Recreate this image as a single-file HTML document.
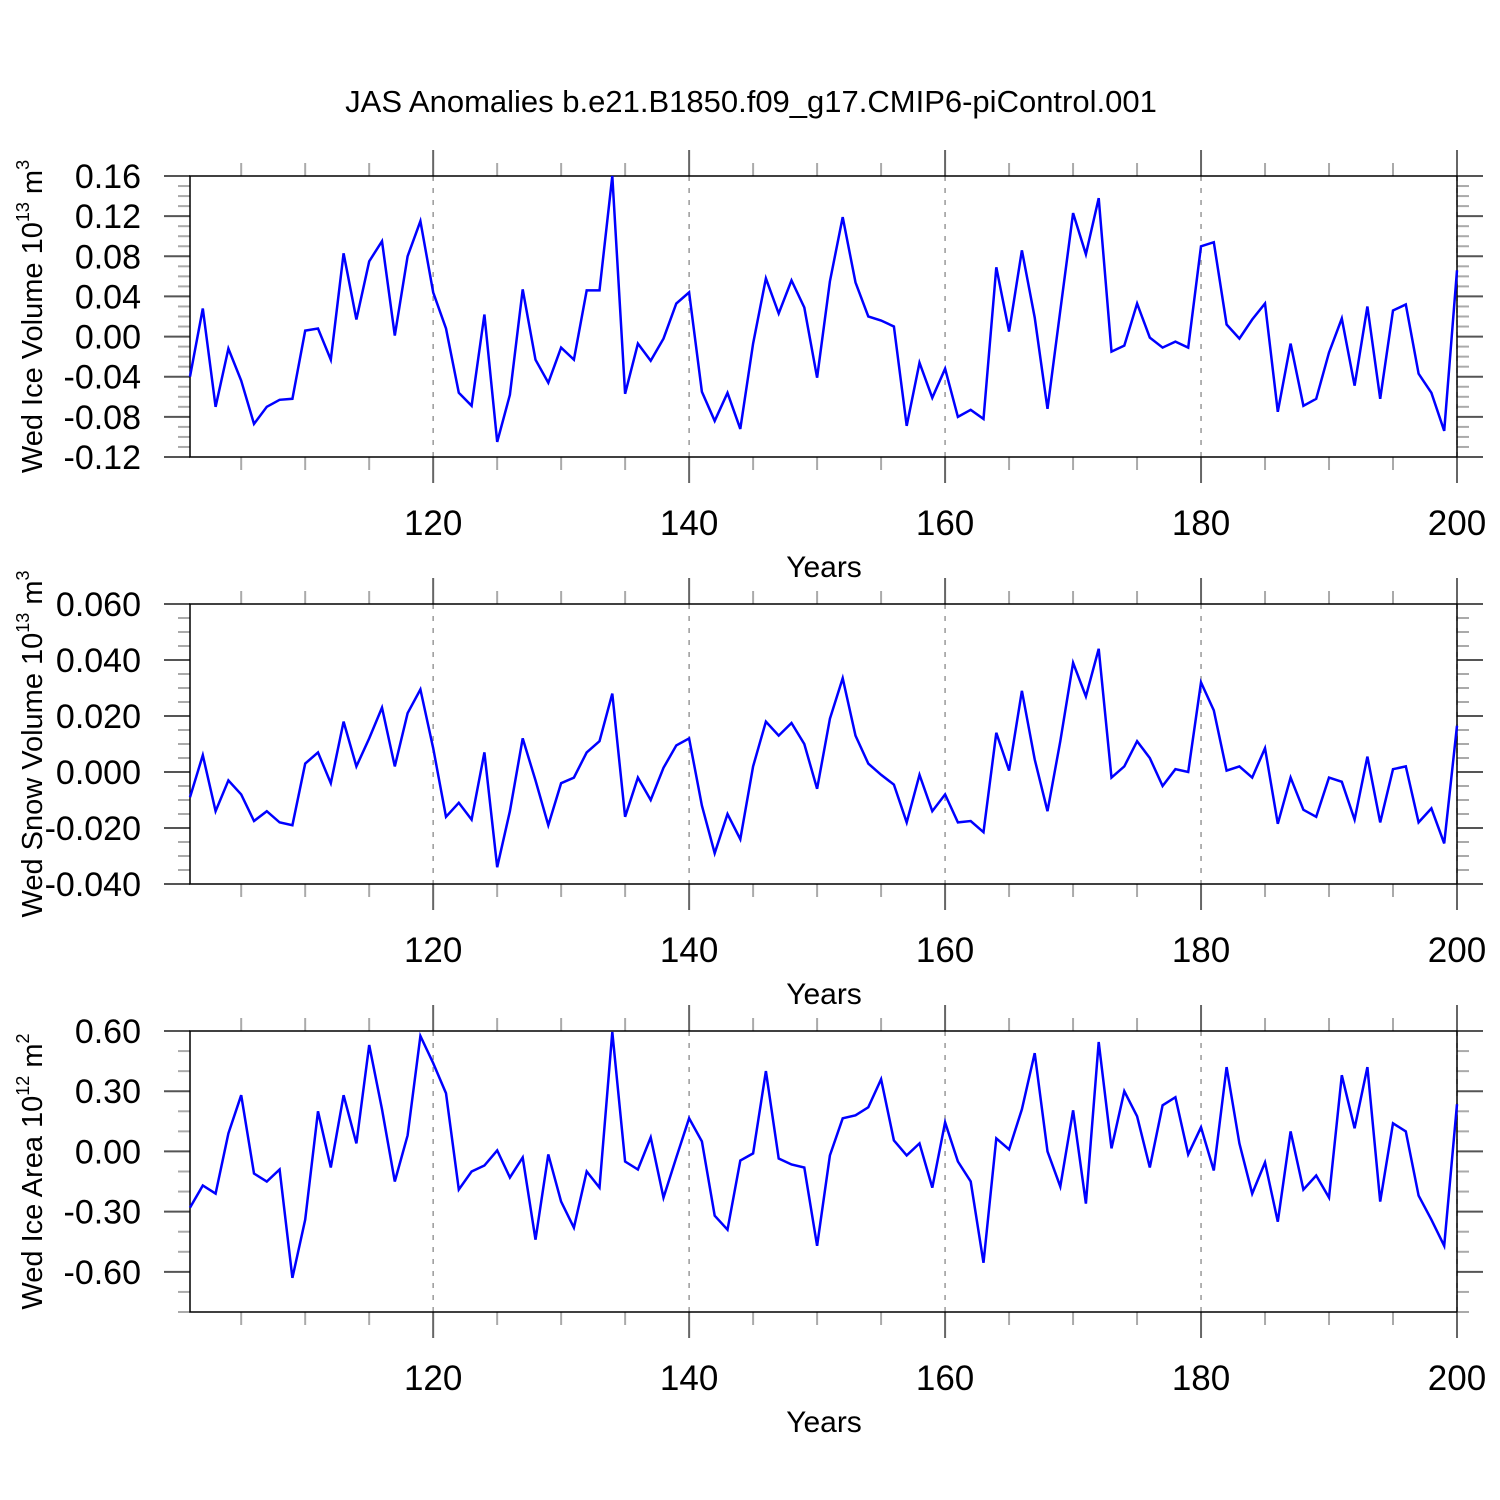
<!DOCTYPE html>
<html><head><meta charset="utf-8"><style>
html,body{margin:0;padding:0;background:#fff;}
svg{display:block;font-family:"Liberation Sans",sans-serif;}
</style></head><body>
<svg id="chart" width="1500" height="1500" viewBox="0 0 1500 1500">
<text x="751" y="112" font-size="31" text-anchor="middle">JAS Anomalies b.e21.B1850.f09_g17.CMIP6-piControl.001</text>
</svg>
<script>
const years = Array.from({length:100},(_,i)=>101+i);
const iceVolume = [-0.04,0.028,-0.07,-0.012,-0.044,-0.087,-0.07,-0.063,-0.062,0.006,0.008,-0.023,0.083,0.017,0.075,0.095,0.001,0.080,0.115,0.044,
0.008,-0.056,-0.069,0.022,-0.105,-0.058,0.047,-0.023,-0.046,-0.011,-0.023,0.046,0.046,0.16,-0.057,-0.007,-0.024,-0.002,0.033,0.044,
-0.055,-0.084,-0.056,-0.092,-0.007,0.058,0.023,0.056,0.029,-0.041,0.055,0.119,0.054,0.020,0.016,0.010,-0.089,-0.026,-0.061,-0.032,
-0.080,-0.073,-0.082,0.069,0.005,0.086,0.019,-0.072,0.026,0.123,0.082,0.138,-0.015,-0.009,0.033,-0.001,-0.011,-0.005,-0.011,0.090,
0.094,0.012,-0.002,0.017,0.033,-0.075,-0.007,-0.069,-0.062,-0.016,0.018,-0.049,0.030,-0.062,0.026,0.032,-0.037,-0.056,-0.094,0.066];
const snowVolume = [-0.009,0.006,-0.014,-0.003,-0.008,-0.0175,-0.014,-0.018,-0.019,0.003,0.007,-0.004,0.018,0.002,0.012,0.023,0.002,0.021,0.0295,0.0085,
-0.016,-0.011,-0.017,0.007,-0.034,-0.014,0.012,-0.003,-0.019,-0.004,-0.002,0.007,0.011,0.028,-0.016,-0.002,-0.010,0.0015,0.0095,0.012,
-0.012,-0.029,-0.015,-0.024,0.002,0.018,0.013,0.0175,0.010,-0.006,0.019,0.0335,0.013,0.003,-0.001,-0.0045,-0.018,-0.001,-0.014,-0.008,
-0.018,-0.0175,-0.0215,0.014,0.0005,0.029,0.0045,-0.014,0.011,0.039,0.027,0.044,-0.002,0.002,0.011,0.005,-0.005,0.001,0.000,0.032,
0.022,0.0005,0.002,-0.002,0.0085,-0.0185,-0.002,-0.0135,-0.016,-0.002,-0.0035,-0.017,0.0055,-0.018,0.001,0.002,-0.018,-0.013,-0.0255,0.0165];
const iceArea = [-0.28,-0.17,-0.21,0.09,0.28,-0.11,-0.15,-0.09,-0.63,-0.34,0.20,-0.08,0.28,0.04,0.53,0.21,-0.15,0.08,0.575,0.44,
0.29,-0.19,-0.10,-0.07,0.005,-0.13,-0.03,-0.44,-0.015,-0.25,-0.38,-0.10,-0.18,0.595,-0.05,-0.09,0.07,-0.23,-0.03,0.165,
0.05,-0.32,-0.39,-0.045,-0.01,0.40,-0.035,-0.065,-0.08,-0.47,-0.02,0.165,0.18,0.22,0.36,0.055,-0.02,0.04,-0.18,0.145,
-0.05,-0.15,-0.555,0.065,0.01,0.21,0.49,0.0,-0.175,0.205,-0.26,0.545,0.015,0.30,0.175,-0.08,0.23,0.27,-0.015,0.12,
-0.095,0.42,0.04,-0.21,-0.055,-0.35,0.10,-0.19,-0.12,-0.23,0.38,0.115,0.42,-0.25,0.14,0.10,-0.22,-0.34,-0.47,0.235];
const xTickLabels = ["120","140","160","180","200"];
const xTickValues = [120,140,160,180,200];
const iceVolTicks = ["0.16","0.12","0.08","0.04","0.00","-0.04","-0.08","-0.12"];
const snowTicks = ["0.060","0.040","0.020","0.000","-0.020","-0.040"];
const areaTicks = ["0.60","0.30","0.00","-0.30","-0.60"];

const NS="http://www.w3.org/2000/svg";
const svg=document.getElementById('chart');
function mk(tag,attrs,parent){const e=document.createElementNS(NS,tag);for(const k in attrs)e.setAttribute(k,attrs[k]);(parent||svg).appendChild(e);return e;}
const X0=190,X1=1457,XMIN=101,XMAX=200;
const xs=v=>X0+(v-XMIN)/(XMAX-XMIN)*(X1-X0);

const panels=[
 {name:'ice-volume',top:176,bot:457,ymin:-0.12,ymax:0.16,major:0.04,minor:0.01,ticks:iceVolTicks,data:iceVolume,title:'Wed Ice Volume 10',sup:'13',unit:' m',usup:'3'},
 {name:'snow-volume',top:604,bot:884,ymin:-0.04,ymax:0.06,major:0.02,minor:0.005,ticks:snowTicks,data:snowVolume,title:'Wed Snow Volume 10',sup:'13',unit:' m',usup:'3'},
 {name:'ice-area',top:1031,bot:1312,ymin:-0.8,ymax:0.6,major:0.3,minor:0.1,ticks:areaTicks,data:iceArea,title:'Wed Ice Area 10',sup:'12',unit:' m',usup:'2'}
];
panels.forEach(p=>{
 const g=mk('g',{});
 
 
 const ys=v=>p.bot-(v-p.ymin)/(p.ymax-p.ymin)*(p.bot-p.top);
 xTickValues.forEach(v=>{
  const l=mk('line',{x1:xs(v),x2:xs(v),y1:p.top,y2:p.bot,stroke:'#999','stroke-width':1.5,'stroke-dasharray':'5,7'},g);
  
  
 });
 for(let yr=105;yr<=200;yr+=5){
  const maj=yr%20===0;const len=maj?26:13;
  [[p.top,-1],[p.bot,1]].forEach(([y,d])=>{
   const t=mk('line',{x1:xs(yr),x2:xs(yr),y1:y,y2:y+d*len,stroke:maj?'#666':'#aaa','stroke-width':2},g);
   
   
  });
 }
 const nMin=Math.round((p.ymax-p.ymin)/p.minor);
 for(let i=0;i<=nMin;i++){
  const v=p.ymax-i*p.minor;
  const rel=(p.ymax-v)/p.major;const maj=Math.abs(rel-Math.round(rel))<1e-6;
  const len=maj?26:12;
  [[X0,-1],[X1,1]].forEach(([x,d])=>{
   const t=mk('line',{x1:x,x2:x+d*len,y1:ys(v),y2:ys(v),stroke:maj?'#555':'#aaa','stroke-width':2},g);
   
   
  });
 }
 p.ticks.forEach(s=>{
  const t=mk('text',{x:141,y:ys(parseFloat(s))+12,'font-size':34,'text-anchor':'end'},g);
  t.textContent=s;
  
  
 });
 xTickLabels.forEach((s,i)=>{
  const t=mk('text',{x:xs(xTickValues[i]),y:p.bot+78,'font-size':35,'text-anchor':'middle'},g);
  t.textContent=s;
  
  
 });
 const xt=mk('text',{x:824,y:p.bot+120,'font-size':30,'text-anchor':'middle'},g);
 xt.textContent='Years';
 
 
 const cy=(p.top+p.bot)/2;
 const yt=mk('text',{x:0,y:0,'font-size':29,'text-anchor':'middle',transform:`translate(42,${cy}) rotate(-90)`},g);
 
 
 const t1=mk('tspan',{},yt);t1.textContent=p.title;
 const t2=mk('tspan',{dy:-13,'font-size':18},yt);t2.textContent=p.sup;
 const t3=mk('tspan',{dy:13},yt);t3.textContent=p.unit;
 const t4=mk('tspan',{dy:-13,'font-size':18},yt);t4.textContent=p.usup;
 const b=mk('rect',{x:X0,y:p.top,width:X1-X0,height:p.bot-p.top,fill:'none',stroke:'#000','stroke-width':1.5},g);
 
 
 const pts=p.data.map((v,i)=>xs(years[i]).toFixed(1)+','+ys(v).toFixed(1)).join(' ');
 const line=mk('polyline',{points:pts,fill:'none',stroke:'#0000ff','stroke-width':2.5,'stroke-linejoin':'miter'},g);
 
 
});
</script>
</body></html>
